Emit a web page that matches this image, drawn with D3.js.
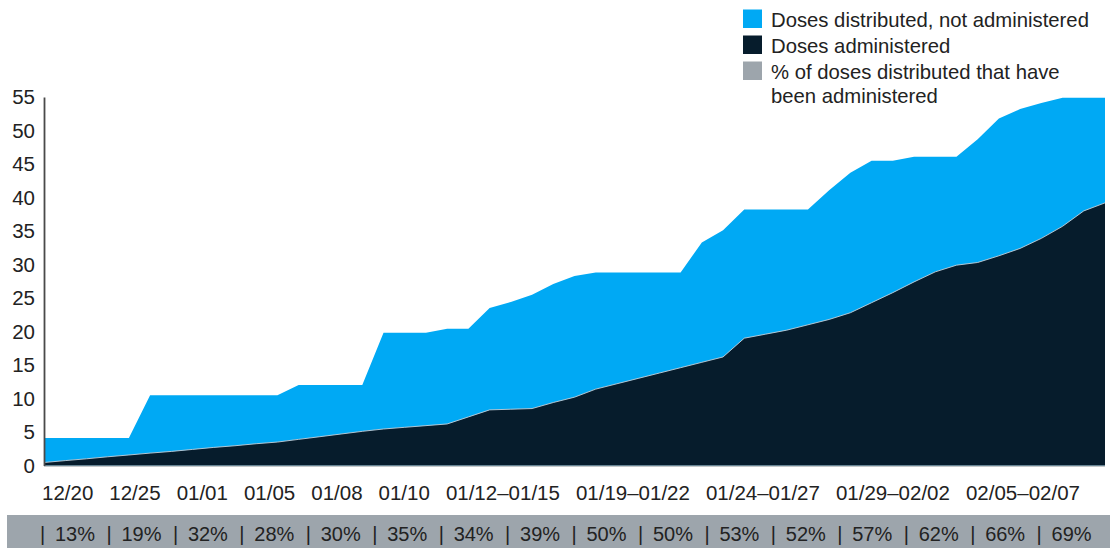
<!DOCTYPE html>
<html>
<head>
<meta charset="utf-8">
<script src="https://cdn.jsdelivr.net/npm/d3@7/dist/d3.min.js"></script>
<style>
  html, body { margin: 0; padding: 0; background: #fff; }
  svg { display: block; font-family: "Liberation Sans", Arial, Helvetica, sans-serif; }
</style>
</head>
<body>
<svg id="chart" width="1110" height="548"></svg>
<script>
// COVID-19 vaccine doses (millions), one reading per reporting day
const distributed = [
  4.1, 4.1, 4.1, 4.1, 4.1,
  10.5, 10.5, 10.5, 10.5, 10.5, 10.5, 10.5,
  12.0, 12.0, 12.0, 12.0,
  19.8, 19.8, 19.8,
  20.4, 20.4,
  23.5, 24.4, 25.5, 27.1, 28.3,
  28.8, 28.8, 28.8, 28.8, 28.8,
  33.3, 35.1,
  38.2, 38.2, 38.2, 38.2,
  41.1, 43.7, 45.5, 45.5, 46.1, 46.1, 46.1,
  48.7, 51.8, 53.2, 54.1, 54.9, 54.9, 54.9
];
const administered = [
  0.45, 0.73, 1.0, 1.3, 1.57, 1.85, 2.1, 2.4, 2.7, 2.95,
  3.25, 3.5, 3.9, 4.3, 4.7, 5.1, 5.45, 5.7, 5.95, 6.2,
  7.25, 8.3, 8.4, 8.5, 9.4, 10.2, 11.4, 12.2, 13.0, 13.8,
  14.6, 15.4, 16.2, 19.0, 19.6, 20.2, 21.0, 21.8, 22.8, 24.3,
  25.8, 27.4, 28.9, 29.9, 30.3, 31.3, 32.4, 33.9, 35.7, 38.0, 39.2
];
const dateLabels = ["12/20", "12/25", "01/01", "01/05", "01/08", "01/10",
  "01/12\u201301/15", "01/19\u201301/22", "01/24\u201301/27", "01/29\u201302/02", "02/05\u201302/07"];
const pctAdministered = [13, 19, 32, 28, 30, 35, 34, 39, 50, 50, 53, 52, 57, 62, 66, 69];
const yTicks = [0, 5, 10, 15, 20, 25, 30, 35, 40, 45, 50, 55];
const legendItems = [
  { label: ["Doses distributed, not administered"], color: "#00a9f4" },
  { label: ["Doses administered"], color: "#061c2c" },
  { label: ["% of doses distributed that have", "been administered"], color: "#9da5ac" }
];

const COLORS = { distributed: "#00a9f4", administered: "#061c2c", band: "#9da5ac", text: "#222" };

const svg = d3.select("#chart");
const W = 1110, H = 548;
const plot = { left: 44, right: 1105, top: 97, bottom: 465.5 };

const rows = distributed.map((d, i) => ({ i, distributed: d, administered: administered[i] }));

const x = d3.scaleLinear().domain([0, rows.length - 1]).range([plot.left, plot.right]);
const y = d3.scaleLinear().domain([0, 55]).range([plot.bottom, plot.top]);

// Areas: total distributed behind, administered in front
const areaDistributed = d3.area().x(d => x(d.i)).y0(y(0)).y1(d => y(d.distributed));
const areaAdministered = d3.area().x(d => x(d.i)).y0(y(0)).y1(d => y(d.administered));
const lineAdministered = d3.line().x(d => x(d.i)).y(d => y(d.administered));

svg.append("path").datum(rows).attr("d", areaDistributed).attr("fill", COLORS.distributed);
svg.append("path").datum(rows).attr("d", areaAdministered).attr("fill", COLORS.administered);
svg.append("path").datum(rows).attr("d", lineAdministered)
  .attr("fill", "none").attr("stroke", "#c4d0da").attr("stroke-width", 0.9);

// X baseline
svg.append("line")
  .attr("x1", plot.left).attr("x2", plot.right)
  .attr("y1", y(0) + 0.5).attr("y2", y(0) + 0.5)
  .attr("stroke", "#8a8f94").attr("stroke-width", 1.2);

// Y axis
const yAxis = d3.axisLeft(y).tickValues(yTicks).tickSize(0).tickPadding(9);
const gy = svg.append("g").attr("transform", `translate(${plot.left},0)`).call(yAxis);
gy.select(".domain").attr("stroke", "#4a4a4a").attr("stroke-width", 1.8);
gy.selectAll("text")
  .attr("fill", COLORS.text)
  .style("font-size", "20.5px")
  .style("font-family", "'Liberation Sans', Arial, sans-serif");

// Date labels along the bottom, laid out left to right
const gx = svg.append("g").attr("class", "date-labels");
let cursor = 42;
dateLabels.forEach(lbl => {
  const t = gx.append("text")
    .attr("x", cursor).attr("y", 500)
    .attr("fill", COLORS.text)
    .style("font-size", "20.5px")
    .text(lbl);
  cursor += t.node().getComputedTextLength() + 16;
});

// Percentage band
svg.append("rect")
  .attr("x", 7).attr("y", 515).attr("width", W - 7).attr("height", H - 515)
  .attr("fill", COLORS.band);

const band = d3.scaleBand().domain(pctAdministered.map((_, i) => i)).range([40, 1103]).paddingInner(0);
const gp = svg.append("g").attr("class", "pct");
pctAdministered.forEach((v, i) => {
  gp.append("text")
    .attr("x", band(i)).attr("y", 541)
    .attr("fill", COLORS.text).style("font-size", "20px")
    .text("|");
  gp.append("text")
    .attr("x", band(i) + 15).attr("y", 541)
    .attr("fill", COLORS.text).style("font-size", "20px")
    .text(`${v}%`);
});

// Legend
const legend = svg.append("g").attr("class", "legend");
const lineH = 26;
let row = 0;
legendItems.forEach(item => {
  const top = 26.5 + row * lineH;
  legend.append("rect")
    .attr("x", 743).attr("y", top - 17).attr("width", 19).attr("height", 18.5)
    .attr("fill", item.color);
  item.label.forEach((ln, j) => {
    legend.append("text")
      .attr("x", 771).attr("y", top + j * 24)
      .attr("fill", COLORS.text).style("font-size", "20.3px")
      .text(ln);
  });
  row += 1;
});
</script>
</body>
</html>
